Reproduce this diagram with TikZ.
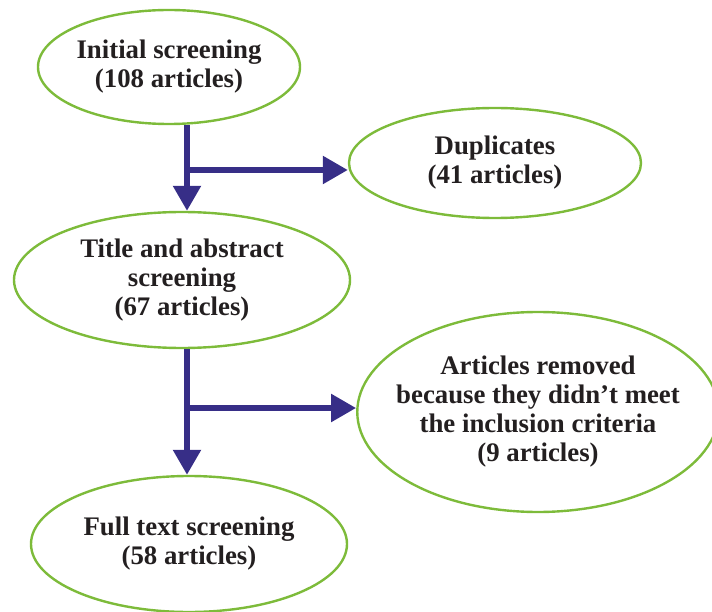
\documentclass[tikz,border=0pt]{standalone}
\usepackage{fontspec}
\setmainfont{Liberation Serif}
\usetikzlibrary{shapes.geometric,arrows.meta}
\definecolor{leafgreen}{RGB}{125,187,58}
\definecolor{inkblue}{RGB}{55,46,135}
\definecolor{textgray}{RGB}{35,31,32}
\begin{document}
\begin{tikzpicture}[x=1pt, y=-1pt, font=\fontsize{26.8}{29}\selectfont\bfseries, line join=round, >={Triangle[length=25pt,width=27pt]},
	stage/.style={ellipse, draw=leafgreen, line width=2.4pt, text=textgray, align=center, inner sep=0pt},
	flow/.style={->, draw=inkblue, fill=inkblue, line width=5.5pt}]
			\useasboundingbox (0,0) rectangle (712,612);
			% stages of the screening
			\node[stage, minimum width=262pt, minimum height=114pt] (init) at (169,67) {Initial screening\\(108 articles)};
			\node[stage, minimum width=292pt, minimum height=110pt] (dup) at (495,163) {Duplicates\\(41 articles)};
			\node[stage, minimum width=336pt, minimum height=136pt] (title) at (182,280) {Title and abstract\\screening\\(67 articles)};
			\node[stage, inner xsep=-14pt, minimum width=356pt, minimum height=200pt] (removed) at (538,412) {Articles removed\\because they didn’t meet\\the inclusion criteria\\(9 articles)};
			\node[stage, minimum width=316pt, minimum height=136pt] (full) at (189,544) {Full text screening\\(58 articles)};
			% arrows
			\coordinate (fork1) at (187,170);
			\coordinate (fork2) at (187,408);
			\draw[flow] (init.south -| fork1)--(title.north -| fork1);
			\draw[flow] (fork1)--(fork1 -| dup.west);
			\draw[flow] (title.south -| fork2)--(full.north -| fork2);
			\draw[flow] (fork2)--(fork2 -| removed.west);
		\end{tikzpicture}
\end{document}
